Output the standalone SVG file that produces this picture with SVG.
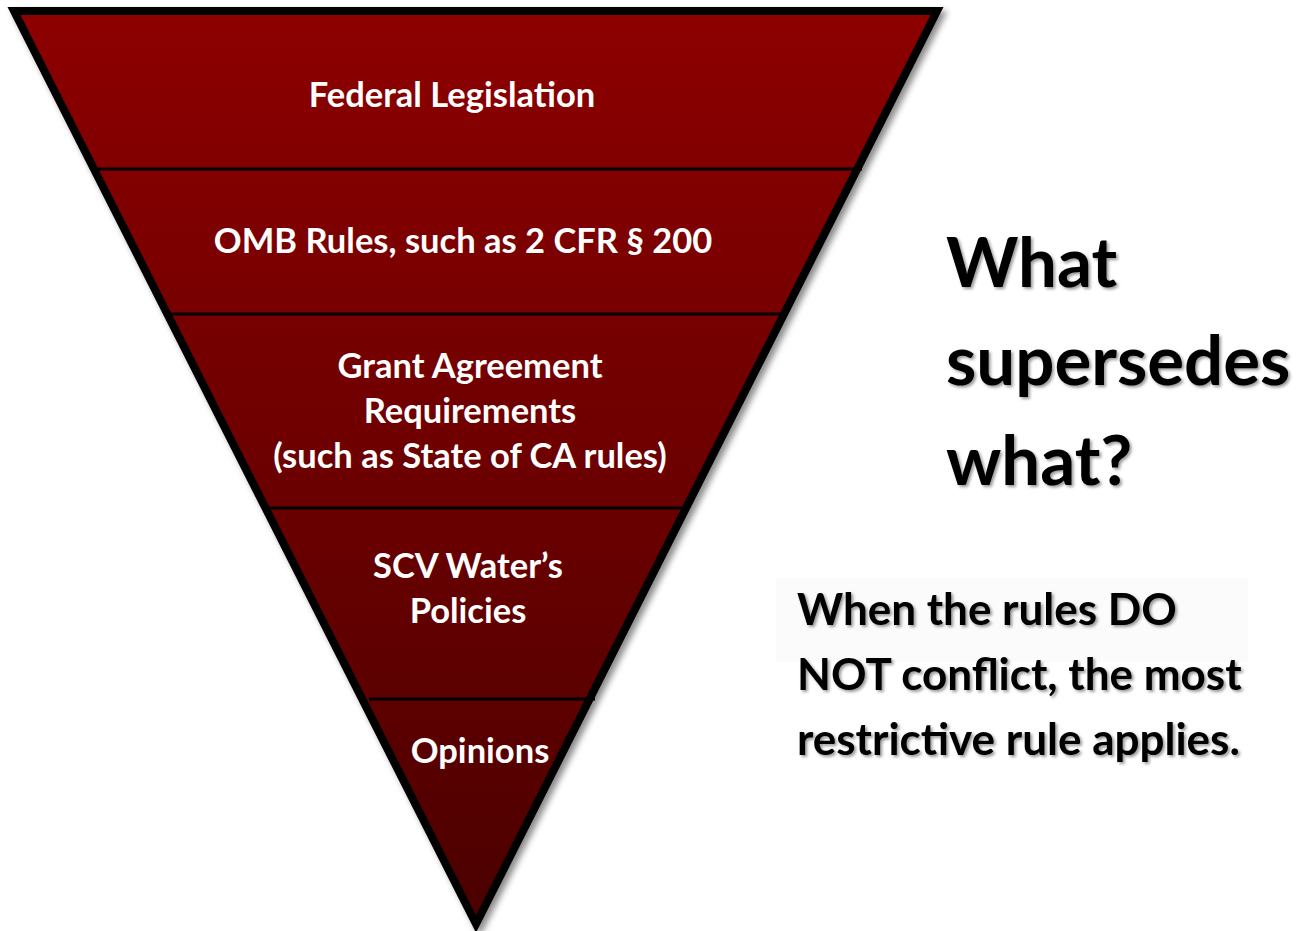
<svg xmlns="http://www.w3.org/2000/svg" width="1304" height="931" viewBox="0 0 1304 931">
  <defs>
    <linearGradient id="fillRed" x1="0" y1="11" x2="0" y2="924" gradientUnits="userSpaceOnUse">
      <stop offset="0" stop-color="#8d0000"/>
      <stop offset="1" stop-color="#4c0000"/>
    </linearGradient>
    <filter id="shapeShadow" x="-10%" y="-10%" width="120%" height="120%">
      <feDropShadow dx="4" dy="4" stdDeviation="3" flood-color="#000" flood-opacity="0.45"/>
    </filter>
    <filter id="textShadow" x="-10%" y="-20%" width="120%" height="140%">
      <feDropShadow dx="2" dy="2" stdDeviation="1.5" flood-color="#000" flood-opacity="0.4"/>
    </filter>
    <style>
      .band { font-family: Lato, "Liberation Sans", sans-serif; font-weight: 700; font-size: 34.5px; fill: #ffffff; text-anchor: middle; }
      .divider { stroke: #000; stroke-width: 3; }
      .heading { font-family: Lato, "Liberation Sans", sans-serif; font-weight: 700; font-size: 69px; fill: #000; }
      .note { font-family: Lato, "Liberation Sans", sans-serif; font-weight: 700; font-size: 44px; fill: #000; }
    </style>
  </defs>

  <rect width="1304" height="931" fill="#ffffff"/>

  <!-- inverted pyramid -->
  <g id="pyramid">
    <polygon points="14,11 937,11 476,924" fill="url(#fillRed)" stroke="#000" stroke-width="8" stroke-linejoin="miter" filter="url(#shapeShadow)"/>
  </g>

  <!-- tier dividers -->
  <g id="connectors">
    <line class="divider" x1="95" y1="169" x2="862" y2="169"/>
    <line class="divider" x1="168" y1="314" x2="785" y2="314"/>
    <line class="divider" x1="268" y1="508" x2="688" y2="508"/>
    <line class="divider" x1="369" y1="699" x2="595" y2="699"/>
  </g>

  <g id="tier-federal">
    <text class="band" x="452" y="107">Federal Legislation</text>
  </g>
  <g id="tier-omb">
    <text class="band" x="463" y="253">OMB Rules, such as 2 CFR § 200</text>
  </g>
  <g id="tier-grant">
    <text class="band" x="470" y="378">Grant Agreement</text>
    <text class="band" x="470" y="423">Requirements</text>
    <text class="band" x="470" y="468">(such as State of CA rules)</text>
  </g>
  <g id="tier-scv">
    <text class="band" x="468" y="578">SCV Water’s</text>
    <text class="band" x="468" y="623">Policies</text>
  </g>
  <g id="tier-opinions">
    <text class="band" x="480" y="763">Opinions</text>
  </g>

  <g id="question" filter="url(#textShadow)">
    <text class="heading" x="946" y="287">What</text>
    <text class="heading" x="946" y="385">supersedes</text>
    <text class="heading" x="946" y="485">what?</text>
  </g>

  <g id="note">
    <rect x="776" y="578" width="472" height="84" fill="#fbfbfb"/>
    <g filter="url(#textShadow)">
      <text class="note" x="797" y="625">When the rules DO</text>
      <text class="note" x="797" y="690">NOT conflict, the most</text>
      <text class="note" x="797" y="755">restrictive rule applies.</text>
    </g>
  </g>
</svg>
